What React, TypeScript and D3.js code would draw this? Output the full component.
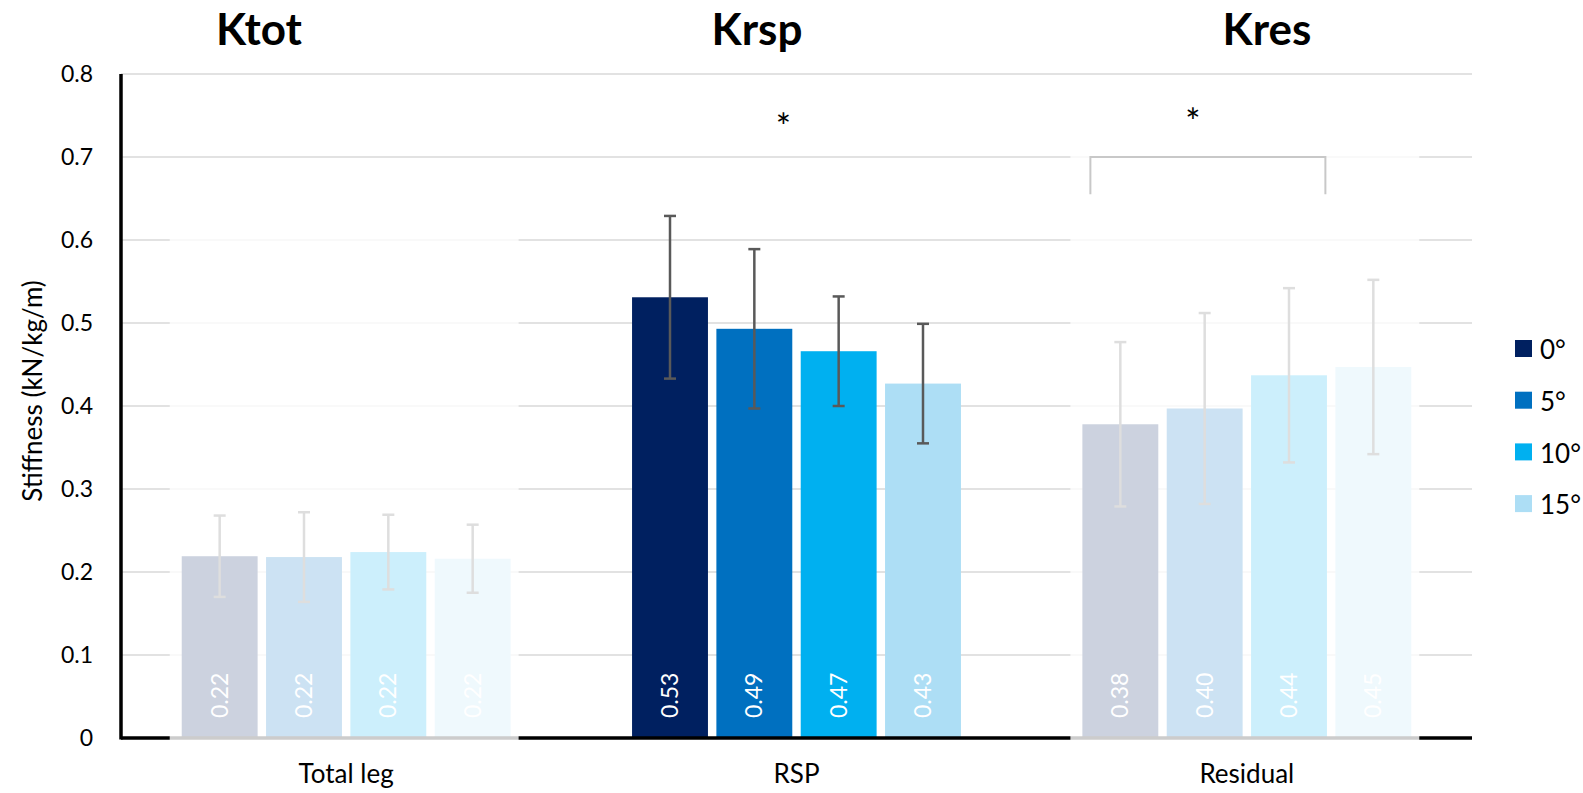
import React, { useEffect, useRef } from "react";
import * as d3 from "d3";

// data
const groups = ["Total leg", "RSP", "Residual"];
const titles = ["Ktot", "Krsp", "Kres"];
const series = ["0°", "5°", "10°", "15°"];
const colors = ["#002060", "#0070C0", "#00B0F0", "#ADDEF5"];
const ktotMean = [0.219, 0.218, 0.224, 0.216];
const ktotErr = [0.049, 0.054, 0.045, 0.041];
const krspMean = [0.531, 0.493, 0.466, 0.427];
const krspErr = [0.098, 0.096, 0.066, 0.072];
const kresMean = [0.378, 0.397, 0.437, 0.447];
const kresErr = [0.099, 0.115, 0.105, 0.105];
const yTicks = [0, 0.1, 0.2, 0.3, 0.4, 0.5, 0.6, 0.7, 0.8];
const fadedGroups = ["Total leg", "Residual"];

const W = 1583;
const H = 793;
const FONT = "Lato, 'Open Sans', sans-serif";

const App = () => {
    const svgRef = useRef<SVGSVGElement | null>(null);

    useEffect(() => {
        document.body.style.margin = "0";
        const svg = d3.select(svgRef.current);
        svg.selectAll("*").remove();

        const margin = { left: 121, right: 111, top: 74, bottom: 55 };
        const plotR = W - margin.right;
        const plotB = H - margin.bottom;

        const means = [ktotMean, krspMean, kresMean];
        const errs = [ktotErr, krspErr, kresErr];
        const rows = groups.flatMap((g, gi) =>
            series.map((s, si) => ({ g, s, si, v: means[gi][si], e: errs[gi][si] }))
        );

        const x0 = d3.scaleBand().domain(groups).range([margin.left, plotR]).padding(0);
        const x1 = d3
            .scaleBand()
            .domain(series)
            .range([0, x0.bandwidth()])
            .paddingInner(0.1)
            .paddingOuter(0.72);
        const y = d3.scaleLinear().domain([0, 0.8]).range([plotB, margin.top]);
        const color = d3.scaleOrdinal<string, string>().domain(series).range(colors);

        // gridlines
        svg.append("g")
            .selectAll("line")
            .data(yTicks.slice(1))
            .enter()
            .append("line")
            .attr("x1", margin.left)
            .attr("x2", plotR)
            .attr("y1", (d) => y(d))
            .attr("y2", (d) => y(d))
            .attr("stroke", "#d9d9d9")
            .attr("stroke-width", 1.5);

        // y tick labels
        svg.append("g")
            .selectAll("text")
            .data(yTicks)
            .enter()
            .append("text")
            .attr("x", 93)
            .attr("y", (d) => y(d))
            .attr("dy", "0.35em")
            .attr("text-anchor", "end")
            .attr("font-family", FONT)
            .attr("font-size", 23)
            .attr("fill", "#000")
            .text((d) => (d === 0 ? "0" : d3.format(".1f")(d)));

        // bars
        const bars = svg.append("g");
        bars.selectAll("rect")
            .data(rows)
            .enter()
            .append("rect")
            .attr("x", (d) => x0(d.g)! + x1(d.s)!)
            .attr("y", (d) => y(d.v))
            .attr("width", x1.bandwidth())
            .attr("height", (d) => y(0) - y(d.v))
            .attr("fill", (d) => color(d.s));

        // error bars
        const eb = svg.append("g").attr("stroke", "#595959").attr("stroke-width", 2.5);
        const cx = (d: any) => x0(d.g)! + x1(d.s)! + x1.bandwidth() / 2;
        eb.selectAll(".stem")
            .data(rows)
            .enter()
            .append("line")
            .attr("x1", cx)
            .attr("x2", cx)
            .attr("y1", (d) => y(d.v + d.e))
            .attr("y2", (d) => y(d.v - d.e));
        eb.selectAll(".capTop")
            .data(rows)
            .enter()
            .append("line")
            .attr("x1", (d) => cx(d) - 6)
            .attr("x2", (d) => cx(d) + 6)
            .attr("y1", (d) => y(d.v + d.e))
            .attr("y2", (d) => y(d.v + d.e));
        eb.selectAll(".capBot")
            .data(rows)
            .enter()
            .append("line")
            .attr("x1", (d) => cx(d) - 6)
            .attr("x2", (d) => cx(d) + 6)
            .attr("y1", (d) => y(d.v - d.e))
            .attr("y2", (d) => y(d.v - d.e));

        // axes lines
        svg.append("line")
            .attr("x1", margin.left)
            .attr("x2", plotR)
            .attr("y1", y(0))
            .attr("y2", y(0))
            .attr("stroke", "#000")
            .attr("stroke-width", 3.5);
        svg.append("line")
            .attr("x1", margin.left)
            .attr("x2", margin.left)
            .attr("y1", y(0.8))
            .attr("y2", y(0) + 1.5)
            .attr("stroke", "#000")
            .attr("stroke-width", 3.5);

        // white veil over the faded groups
        const veilTop: Record<string, number> = { "Total leg": 0.65, Residual: 0.75 };
        svg.append("g")
            .selectAll("rect")
            .data(fadedGroups)
            .enter()
            .append("rect")
            .attr("x", (d) => x0(d)! + x1(series[0])! - 12)
            .attr("y", (d) => y(veilTop[d]))
            .attr("width", x1(series[3])! + x1.bandwidth() - x1(series[0])! + 20)
            .attr("height", (d) => y(0) - y(veilTop[d]) + 4)
            .attr("fill", "#fff")
            .attr("opacity", 0.8);

        // value labels (rotated, white)
        svg.append("g")
            .selectAll("text")
            .data(rows)
            .enter()
            .append("text")
            .attr("transform", (d) => `translate(${cx(d)},${y(0) - 20}) rotate(-90)`)
            .attr("dy", "0.35em")
            .attr("font-family", FONT)
            .attr("font-size", 23)
            .attr("fill", "#fff")
            .text((d) => d3.format(".2f")(d.v));

        // category labels
        svg.append("g")
            .selectAll("text")
            .data(groups)
            .enter()
            .append("text")
            .attr("x", (d) => x0(d)! + x0.bandwidth() / 2)
            .attr("y", 783)
            .attr("text-anchor", "middle")
            .attr("font-family", FONT)
            .attr("font-size", 26)
            .attr("fill", "#000")
            .text((d) => d);

        // group titles
        const titleX = [259, 757, 1267];
        svg.append("g")
            .selectAll("text")
            .data(titles)
            .enter()
            .append("text")
            .attr("x", (d, i) => titleX[i])
            .attr("y", 45)
            .attr("text-anchor", "middle")
            .attr("font-family", FONT)
            .attr("font-weight", "bold")
            .attr("font-size", 44)
            .attr("fill", "#000")
            .text((d) => d);

        // y axis title
        svg.append("text")
            .attr("transform", `translate(33,391) rotate(-90)`)
            .attr("dy", "0.35em")
            .attr("text-anchor", "middle")
            .attr("font-family", FONT)
            .attr("font-size", 26)
            .attr("fill", "#000")
            .text("Stiffness (kN/kg/m)");

        // significance marks
        const rspX = x0("RSP")! + x0.bandwidth() / 2;
        svg.append("text")
            .attr("x", rspX - 13)
            .attr("y", 140)
            .attr("text-anchor", "middle")
            .attr("font-family", FONT)
            .attr("font-size", 36)
            .text("*");
        const resLeft = x0("Residual")! + x1(series[0])! + 8;
        const resRight = x0("Residual")! + x1(series[3])! - 10;
        svg.append("path")
            .attr("d", `M${resLeft},${y(0.655)}V${y(0.7)}H${resRight}V${y(0.655)}`)
            .attr("fill", "none")
            .attr("stroke", "#c8c8c8")
            .attr("stroke-width", 2);
        svg.append("text")
            .attr("x", (resLeft + resRight) / 2 - 15)
            .attr("y", 135)
            .attr("text-anchor", "middle")
            .attr("font-family", FONT)
            .attr("font-size", 36)
            .text("*");

        // legend
        const lg = svg.append("g").attr("transform", "translate(1515,340)");
        const item = lg
            .selectAll("g")
            .data(series)
            .enter()
            .append("g")
            .attr("transform", (d, i) => `translate(0,${i * 51.7})`);
        item.append("rect").attr("width", 17).attr("height", 17).attr("fill", (d) => color(d));
        item.append("text")
            .attr("x", 25)
            .attr("y", 10)
            .attr("dy", "0.35em")
            .attr("font-family", FONT)
            .attr("font-size", 26)
            .attr("fill", "#000")
            .text((d) => d);
    }, []);

    return <svg ref={svgRef} width={W} height={H} style={{ display: "block" }}></svg>;
};

export default App;
